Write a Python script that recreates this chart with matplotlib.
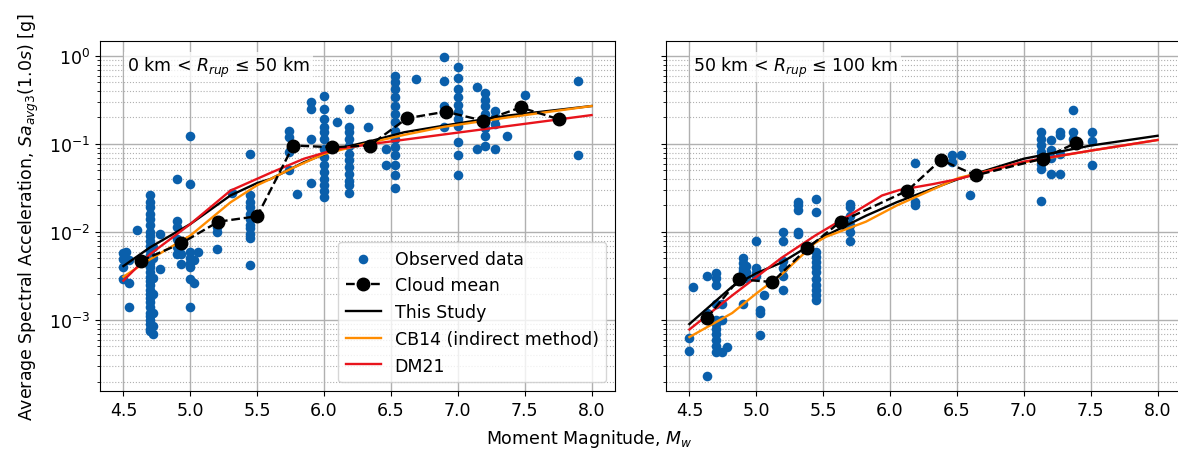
import matplotlib
matplotlib.use("Agg")
import matplotlib.pyplot as plt
from matplotlib.ticker import LogLocator, NullFormatter

# ---------------- Left panel data (0 < Rrup <= 50 km) ----------------
obs1_m = ([4.50]*4 + [4.52] + [4.54]*3 + [4.60] + [4.70]*30 + [4.72]*7 + [4.77]*2 +
          [4.90]*6 + [4.93]*3 + [5.00]*8 + [5.03]*2 + [5.06] + [5.20]*4 + [5.31] +
          [5.45]*11 + [5.74]*4 + [5.80] + [5.90]*4 + [6.00]*14 + [6.10] + [6.19]*12 +
          [6.33] + [6.46]*2 + [6.53]*14 + [6.69] + [6.90]*5 + [7.00]*11 + [7.14]*2 +
          [7.20]*8 + [7.28]*4 + [7.37] + [7.50] + [7.90]*2)
obs1_sa = [0.0058, 0.0049, 0.0040, 0.0029,
           0.0060,
           0.0026, 0.0048, 0.0014,
           0.0104,
           0.026, 0.022, 0.019, 0.016, 0.014, 0.012, 0.010, 0.009, 0.008, 0.007,
           0.0062, 0.0055, 0.005, 0.0045, 0.004, 0.0035, 0.0031, 0.0028, 0.0025, 0.0022,
           0.002, 0.0018, 0.0016, 0.0014, 0.0012, 0.0011, 0.001, 0.0009, 0.0008, 0.00075,
           0.0007, 0.00085, 0.0012, 0.002, 0.003, 0.005, 0.0068,
           0.0095, 0.0038,
           0.040, 0.0134, 0.0115, 0.0083, 0.0067, 0.0056,
           0.0043, 0.0056, 0.0070,
           0.124, 0.035, 0.0059, 0.0050, 0.0044, 0.0040, 0.0029, 0.0014,
           0.0048, 0.0026,
           0.0060,
           0.0134, 0.0115, 0.010, 0.0064,
           0.028,
           0.077, 0.026, 0.022, 0.019, 0.016, 0.014, 0.012, 0.011, 0.0095, 0.0085, 0.0042,
           0.142, 0.12, 0.081, 0.050,
           0.027,
           0.30, 0.25, 0.114, 0.036,
           0.354, 0.25, 0.19, 0.155, 0.136, 0.114, 0.088, 0.071, 0.057, 0.048, 0.040, 0.034, 0.0295, 0.025,
           0.178,
           0.25, 0.155, 0.136, 0.114, 0.096, 0.077, 0.065, 0.055, 0.046, 0.038, 0.034, 0.028,
           0.156,
           0.088, 0.057,
           0.597, 0.50, 0.42, 0.34, 0.27, 0.22, 0.176, 0.142, 0.114, 0.092, 0.074, 0.057, 0.044, 0.032,
           0.55,
           0.97, 0.52, 0.27, 0.23, 0.155,
           0.74, 0.56, 0.42, 0.34, 0.28, 0.23, 0.19, 0.16, 0.105, 0.075, 0.044,
           0.44, 0.088,
           0.38, 0.32, 0.27, 0.22, 0.18, 0.15, 0.124, 0.096,
           0.24, 0.20, 0.17, 0.088,
           0.124,
           0.36,
           0.52, 0.074]

mean1_m = [4.63, 4.93, 5.21, 5.50, 5.77, 6.06, 6.34, 6.62, 6.91, 7.19, 7.47, 7.76]
mean1_sa = [0.0047, 0.0074, 0.0131, 0.0151, 0.096, 0.092, 0.096, 0.196, 0.233, 0.184, 0.26, 0.19]

study1_m = [4.5, 4.7, 5.0, 5.3, 5.5, 5.6, 5.85, 6.1, 6.35, 6.6, 6.9, 7.37, 8.0]
study1_sa = [0.0041, 0.0067, 0.0123, 0.026, 0.036, 0.040, 0.062, 0.088, 0.108, 0.136, 0.162, 0.21, 0.27]
cb1_m = [4.5, 4.7, 5.0, 5.3, 5.5, 5.6, 5.75, 6.0, 6.35, 6.6, 6.9, 7.37, 8.0]
cb1_sa = [0.0031, 0.0049, 0.0091, 0.0217, 0.034, 0.040, 0.052, 0.077, 0.104, 0.127, 0.157, 0.20, 0.27]
dm1_m = [4.5, 4.7, 5.0, 5.3, 5.6, 5.85, 6.1, 6.42, 6.89, 8.0]
dm1_sa = [0.0028, 0.0056, 0.0123, 0.0295, 0.047, 0.068, 0.088, 0.103, 0.128, 0.213]

# ---------------- Right panel data (50 < Rrup <= 100 km) ----------------
obs2_m = ([4.50]*2 + [4.53] + [4.63]*3 + [4.70]*11 + [4.74]*3 + [4.78] + [4.90]*6 +
          [4.92]*3 + [5.00]*4 + [5.03]*3 + [5.06] + [5.20]*6 + [5.31]*5 + [5.45]*12 +
          [5.70]*6 + [6.19]*3 + [6.46]*2 + [6.53] + [6.60] + [7.13]*8 + [7.20]*4 +
          [7.27]*4 + [7.37]*3 + [7.51]*3)
obs2_sa = [0.00063, 0.00044,
           0.0024,
           0.0032, 0.0012, 0.00023,
           0.0034, 0.0030, 0.0025, 0.0015, 0.0010, 0.0009, 0.0008, 0.0007, 0.0006, 0.0005, 0.00043,
           0.0015, 0.0010, 0.00043,
           0.00049,
           0.0051, 0.0044, 0.0039, 0.0036, 0.0031, 0.0015,
           0.0041, 0.0035, 0.0030,
           0.0080, 0.0039, 0.0034, 0.0032,
           0.0013, 0.0012, 0.00068,
           0.0019,
           0.0101, 0.0080, 0.0047, 0.0039, 0.0032, 0.0022,
           0.0218, 0.020, 0.018, 0.0101, 0.0095,
           0.024, 0.017, 0.0060, 0.0052, 0.0046, 0.0040, 0.0035, 0.0029, 0.0025, 0.0022, 0.0019, 0.0017,
           0.021, 0.019, 0.0153, 0.012, 0.010, 0.0080,
           0.061, 0.0218, 0.020,
           0.074, 0.062,
           0.075,
           0.0265,
           0.136, 0.115, 0.097, 0.082, 0.073, 0.060, 0.052, 0.0224,
           0.112, 0.085, 0.070, 0.046,
           0.136, 0.125, 0.077, 0.046,
           0.246, 0.136, 0.115,
           0.136, 0.109, 0.057]

mean2_m = [4.63, 4.87, 5.12, 5.38, 5.63, 6.13, 6.38, 6.64, 7.14, 7.39]
mean2_sa = [0.00105, 0.0029, 0.0027, 0.0065, 0.0131, 0.0295, 0.066, 0.044, 0.068, 0.103]

study2_m = [4.5, 4.82, 5.0, 5.19, 5.52, 5.82, 6.05, 6.51, 7.0, 7.5, 8.0]
study2_sa = [0.0009, 0.0024, 0.0034, 0.0045, 0.0091, 0.0153, 0.0218, 0.040, 0.068, 0.096, 0.124]
cb2_m = [4.5, 4.82, 5.0, 5.19, 5.44, 5.52, 5.82, 6.05, 6.51, 7.0, 7.5, 8.0]
cb2_sa = [0.00064, 0.0012, 0.0020, 0.0033, 0.0075, 0.0088, 0.0131, 0.020, 0.041, 0.062, 0.084, 0.111]
dm2_m = [4.5, 4.82, 5.19, 5.44, 5.69, 5.94, 6.07, 6.32, 6.51, 7.0, 7.5, 8.0]
dm2_sa = [0.00078, 0.0019, 0.0051, 0.0091, 0.0153, 0.026, 0.030, 0.035, 0.040, 0.063, 0.084, 0.111]

panel_titles = ["0 km < $R_{rup}$ \u2264 50 km", "50 km < $R_{rup}$ \u2264 100 km"]

# ---------------- Plot ----------------
plt.rcParams['font.family'] = ['DejaVu Sans']
plt.rcParams['font.size'] = 12.5

fig = plt.figure(figsize=(11.78, 4.52), dpi=100)
W, H = 1178, 452
ax1 = fig.add_axes([100 / W, 60 / H, 515 / W, 350 / H])
ax2 = fig.add_axes([666 / W, 60 / H, 515 / W, 350 / H], sharey=ax1)

BLUE = '#0a5fab'
panels = [
    (ax1, obs1_m, obs1_sa, mean1_m, mean1_sa, study1_m, study1_sa, cb1_m, cb1_sa, dm1_m, dm1_sa),
    (ax2, obs2_m, obs2_sa, mean2_m, mean2_sa, study2_m, study2_sa, cb2_m, cb2_sa, dm2_m, dm2_sa),
]
for i, (ax, om, osa, mm, msa, sm, ssa, cm, csa, dm, dsa) in enumerate(panels):
    ax.scatter(om, osa, s=48, color=BLUE, zorder=2, label='Observed data', linewidths=0)
    ax.plot(mm, msa, 'k--', marker='o', markersize=9, lw=1.7, zorder=4, label='Cloud mean')
    ax.plot(sm, ssa, color='black', lw=1.7, zorder=3, label='This Study')
    ax.plot(cm, csa, color='#ff8c00', lw=1.7, zorder=3, label='CB14 (indirect method)')
    ax.plot(dm, dsa, color='#e8141c', lw=1.7, zorder=3, label='DM21')
    ax.set_yscale('log')
    ax.set_xlim(4.325, 8.175)
    ax.set_ylim(1.56e-4, 1.48)
    ax.set_xticks([4.5, 5.0, 5.5, 6.0, 6.5, 7.0, 7.5, 8.0])
    ax.yaxis.set_major_locator(LogLocator(base=10, numticks=10))
    ax.yaxis.set_minor_locator(LogLocator(base=10, subs=range(2, 10), numticks=10))
    ax.yaxis.set_minor_formatter(NullFormatter())
    ax.grid(True, which='major', color='#b0b0b0', lw=1.0, zorder=0)
    ax.grid(True, which='minor', axis='y', color='#b0b0b0', lw=0.8, ls=':', zorder=0)
    ax.set_axisbelow(True)
    ax.tick_params(labelsize=12.5)
    ax.text(0.052, 0.926, panel_titles[i], transform=ax.transAxes, fontsize=12.5,
            va='center', ha='left', zorder=5,
            bbox=dict(facecolor='white', edgecolor='none', alpha=0.8, pad=2))

plt.setp(ax2.get_yticklabels(), visible=False)
ax1.set_ylabel('Average Spectral Acceleration, $Sa_{avg3}(1.0s)$ [g]', fontsize=12.5, labelpad=6)
ax1.legend(loc='lower right', fontsize=12.5, framealpha=0.8, borderpad=0.45,
           labelspacing=0.5, handlelength=2.0)
fig.text(0.5, 0.028, 'Moment Magnitude, $M_w$', ha='center', va='center', fontsize=12.5)

fig.savefig('out.png', dpi=100)
